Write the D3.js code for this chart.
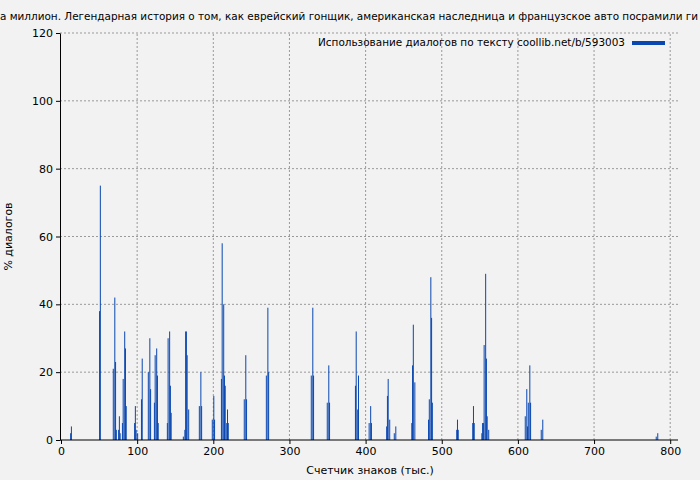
<!DOCTYPE html>
<html><head><meta charset="utf-8">
<script src="https://cdn.jsdelivr.net/npm/d3@7"></script>
<style>body{margin:0;background:#f2f2f2}text{font-family:"DejaVu Sans",sans-serif}</style>
</head><body><div id="page-container"></div>
<script>
  // thousands of chars / % dialogs
  var positions = [12,13,50,51,68,70,71,72,75,76,77,80,81,83,84,85,96,97,98,100,105,106,114,116,117,
    122,123,125,126,127,139,140,142,143,144,160,162,163,164,165,167,181,183,184,198,200,201,
    210,211,213,214,215,217,218,219,240,242,243,269,271,272,328,330,331,349,351,352,386,387,389,390,
    404,406,407,427,428,429,431,437,439,460,461,462,464,482,483,485,486,487,519,520,521,540,541,542,
    552,553,554,555,557,558,559,561,609,611,612,613,615,616,630,632,781,783];
  var values = [2,4,38,75,21,42,23,3,3,7,2,5,18,32,27,10,5,10,3,2,12,24,20,30,15,
    11,25,27,19,5,5,30,32,16,8,1,3,32,32,25,9,10,20,10,6,13,6,
    18,58,40,19,16,5,9,5,12,25,12,19,39,20,19,39,19,11,22,11,16,32,9,19,
    5,10,5,4,13,18,6,2,4,5,22,34,17,6,12,48,36,11,3,6,3,5,10,5,
    2,5,5,28,49,24,7,3,7,15,4,11,22,11,3,6,1,2];
  var xTicks = [0,100,200,300,400,500,600,700,800];
  var yTicks = [0,20,40,60,80,100,120];
  var title = "а миллион. Легендарная история о том, как еврейский гонщик, американская наследница и французское авто посрамили ги";
  var legendLabel = "Использование диалогов по тексту coollib.net/b/593003";

  var data = positions.map((p, i) => ({x: p, v: values[i]}));
  var W = 700, H = 480, m = {top: 33, right: 22, bottom: 40, left: 60};
  var svg = d3.select("#page-container").append("svg").attr("width", W).attr("height", H);
  svg.append("rect").attr("width", W).attr("height", H).attr("fill", "#f2f2f2");

  var x = d3.scaleLinear().domain([0, 812]).range([m.left + 1, m.left + 1 + 812 * 0.7615]);
  var y = d3.scaleLinear().domain([0, 120]).range([H - m.bottom, m.top]);

  var grid = svg.append("g").attr("stroke", "#999").attr("stroke-dasharray", "2,2");
  grid.selectAll(".gx").data(xTicks.slice(1)).enter().append("line")
      .attr("x1", d => x(d)).attr("x2", d => x(d)).attr("y1", y(0)).attr("y2", y(120));
  grid.selectAll(".gy").data(yTicks.slice(1)).enter().append("line")
      .attr("x1", m.left).attr("x2", W - m.right).attr("y1", d => y(d)).attr("y2", d => y(d));

  svg.append("g").selectAll("rect").data(data).enter().append("rect")
      .attr("x", d => x(d.x)).attr("width", d => Math.max(1, x(d.x + 1.3) - x(d.x)))
      .attr("y", d => y(d.v)).attr("height", d => y(0) - y(d.v)).attr("fill", "#0a47b0");

  svg.append("g").attr("transform", "translate(0," + y(0) + ")")
      .call(d3.axisBottom(x).tickValues(xTicks).tickSize(4).tickSizeOuter(0))
      .call(g => g.select(".domain").attr("d", "M" + m.left + ",0H" + (W - m.right)));
  svg.append("g").attr("transform", "translate(" + m.left + ",0)")
      .call(d3.axisLeft(y).tickValues(yTicks).tickSize(4).tickSizeOuter(0));
  svg.selectAll(".tick text").attr("font-size", 11).attr("fill", "#000").attr("font-family", "DejaVu Sans");
  svg.selectAll(".domain").attr("stroke", "#000");

  svg.append("text").attr("x", 0).attr("y", 20).attr("font-size", 10.5)
      .attr("textLength", 698).attr("lengthAdjust", "spacingAndGlyphs").text(title);
  svg.append("text").attr("x", 318).attr("y", 46).attr("font-size", 11)
      .attr("textLength", 307).attr("lengthAdjust", "spacingAndGlyphs").text(legendLabel);
  svg.append("rect").attr("x", 632).attr("y", 41).attr("width", 33).attr("height", 4).attr("fill", "#0a47b0");
  svg.append("text").attr("x", 370).attr("y", 474).attr("text-anchor", "middle").attr("font-size", 11).text("Счетчик знаков (тыс.)");
  svg.append("text").attr("transform", "translate(12," + ((m.top + H - m.bottom) / 2) + ") rotate(-90)")
      .attr("text-anchor", "middle").attr("font-size", 11).text("% диалогов");
</script>
</body></html>
